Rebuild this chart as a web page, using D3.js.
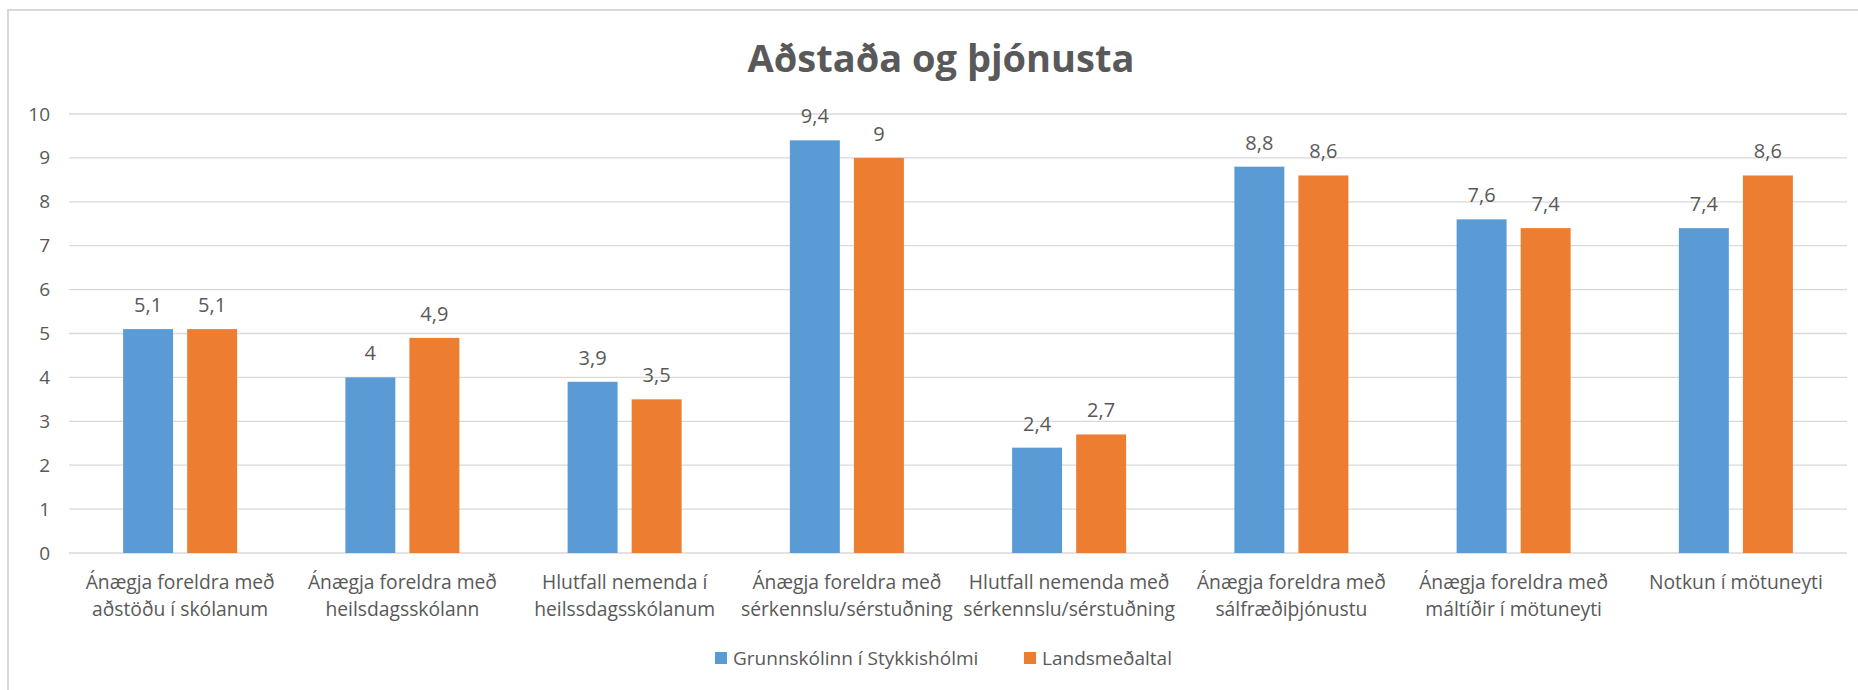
<!DOCTYPE html>
<html>
<head>
<meta charset="utf-8">
<script src="https://cdn.jsdelivr.net/npm/d3@7"></script>
<style>
  body { margin: 0; background: #fff; }
  text { font-family: "Open Sans", "Liberation Sans", sans-serif; fill: #595959; }
</style>
</head>
<body>
<div id="chart"></div>
<script>
// chart data
var categories = [
  "Ánægja foreldra með aðstöðu í skólanum",
  "Ánægja foreldra með heilsdagsskólann",
  "Hlutfall nemenda í heilssdagsskólanum",
  "Ánægja foreldra með sérkennslu/sérstuðning",
  "Hlutfall nemenda með sérkennslu/sérstuðning",
  "Ánægja foreldra með sálfræðiþjónustu",
  "Ánægja foreldra með máltíðir í mötuneyti",
  "Notkun í mötuneyti"
];
var seriesNames = ["Grunnskólinn í Stykkishólmi", "Landsmeðaltal"];
var schoolValues = [5.1, 4, 3.9, 9.4, 2.4, 8.8, 7.6, 7.4];
var nationalValues = [5.1, 4.9, 3.5, 9, 2.7, 8.6, 7.4, 8.6];
var yTicks = [0, 1, 2, 3, 4, 5, 6, 7, 8, 9, 10];
var colors = ["#5B9BD5", "#ED7D31"];

var W = 1858, H = 690;
var plotLeft = 69, plotRight = 1847, plotTop = 114, plotBottom = 553;

var svg = d3.select("#chart").append("svg").attr("width", W).attr("height", H);

// outer frame of the chart area
svg.append("rect")
  .attr("x", 8).attr("y", 10).attr("width", 1900).attr("height", 800)
  .attr("fill", "none").attr("stroke", "#D9D9D9").attr("stroke-width", 2);

svg.append("text")
  .attr("x", 941).attr("y", 72)
  .attr("text-anchor", "middle")
  .style("font-size", "38px").style("font-weight", "bold")
  .text("Aðstaða og þjónusta");

var y = d3.scaleLinear().domain([0, 10]).range([plotBottom, plotTop]);

var x0 = d3.scaleBand().domain(categories).range([plotLeft, plotRight])
  .paddingInner(0.487).paddingOuter(0.2435);
var x1 = d3.scaleBand().domain(seriesNames).range([0, x0.bandwidth()])
  .paddingInner(0.22);

// gridlines
svg.append("g").selectAll("line")
  .data(yTicks).enter().append("line")
  .attr("x1", plotLeft).attr("x2", plotRight)
  .attr("y1", function(d) { return y(d); })
  .attr("y2", function(d) { return y(d); })
  .attr("stroke", "#D9D9D9").attr("stroke-width", 1.3);

// y axis labels
var yAxis = svg.append("g")
  .attr("transform", "translate(" + plotLeft + ",0)")
  .call(d3.axisLeft(y).tickValues(yTicks).tickSize(0).tickPadding(19));
yAxis.select(".domain").remove();
yAxis.selectAll("text").style("font-size", "19px").style("fill", "#595959")
  .style("font-family", "\"Open Sans\", sans-serif");

var rows = categories.map(function(c, i) {
  return { cat: c, vals: [
    { name: seriesNames[0], v: schoolValues[i] },
    { name: seriesNames[1], v: nationalValues[i] }
  ] };
});

var fmt = d3.formatLocale({ decimal: ",", thousands: ".", grouping: [3], currency: ["", ""] }).format("~g");

var group = svg.append("g").selectAll(".grp")
  .data(rows).enter().append("g")
  .attr("class", "grp")
  .attr("transform", function(d) { return "translate(" + x0(d.cat) + ",0)"; });

group.selectAll("rect")
  .data(function(d) { return d.vals; })
  .enter().append("rect")
  .attr("x", function(d) { return x1(d.name); })
  .attr("y", function(d) { return y(d.v); })
  .attr("width", x1.bandwidth())
  .attr("height", function(d) { return y(0) - y(d.v); })
  .attr("fill", function(d, i) { return colors[i]; });

group.selectAll(".lbl")
  .data(function(d) { return d.vals; })
  .enter().append("text")
  .attr("class", "lbl")
  .attr("x", function(d) { return x1(d.name) + x1.bandwidth() / 2; })
  .attr("y", function(d) { return y(d.v) - 17; })
  .attr("text-anchor", "middle")
  .style("font-size", "20px")
  .text(function(d) { return fmt(d.v); });

// category labels, wrapped like the original
var catText = svg.append("g").selectAll(".cat")
  .data(categories).enter().append("text")
  .attr("class", "cat")
  .attr("text-anchor", "middle")
  .style("font-size", "19.3px")
  .attr("x", function(d) { return x0(d) + x0.bandwidth() / 2; })
  .attr("y", 589);

catText.each(function(d) {
  var t = d3.select(this);
  var words = d.split(" ");
  var lines = [], line = [];
  var probe = t.append("tspan");
  words.forEach(function(w) {
    line.push(w);
    probe.text(line.join(" "));
    if (probe.node().getComputedTextLength() > 226 && line.length > 1) {
      line.pop();
      lines.push(line.join(" "));
      line = [w];
    }
  });
  lines.push(line.join(" "));
  probe.remove();
  var cx = t.attr("x");
  lines.forEach(function(l, i) {
    t.append("tspan").attr("x", cx).attr("dy", i === 0 ? 0 : 27).text(l);
  });
});

// legend
var legendX = [715, 1024];
var legend = svg.append("g").selectAll(".leg")
  .data(seriesNames).enter().append("g")
  .attr("class", "leg")
  .attr("transform", function(d, i) { return "translate(" + legendX[i] + ",652)"; });
legend.append("rect")
  .attr("width", 12).attr("height", 12)
  .attr("fill", function(d, i) { return colors[i]; });
legend.append("text")
  .attr("x", 18).attr("y", 13)
  .style("font-size", "19px")
  .text(function(d) { return d; });
</script>
</body>
</html>
